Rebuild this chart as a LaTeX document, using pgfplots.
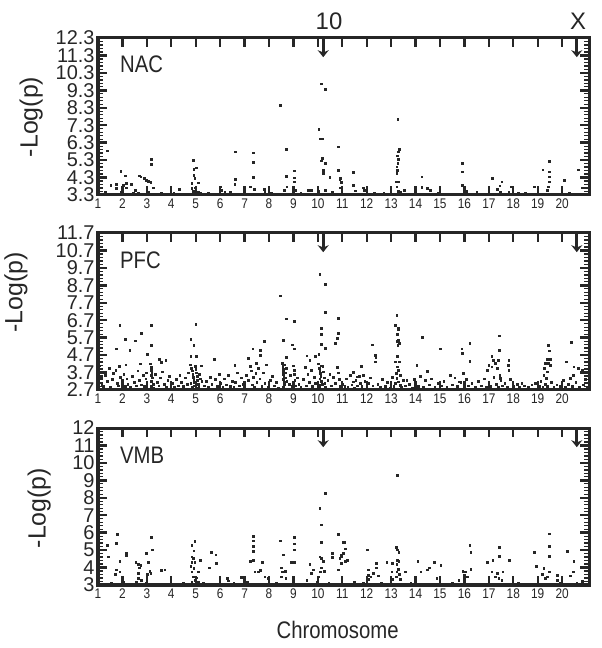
\documentclass[border=0pt]{standalone}
\usepackage{fontspec}
\setmainfont{Liberation Sans}
\newfontfamily\narrowfont{Liberation Sans}[FakeStretch=0.85]
\usepackage{pgfplots}
\pgfplotsset{compat=1.18}
\usetikzlibrary{arrows.meta}
\definecolor{ink}{HTML}{262626}
\pgfplotsset{manh/.style={
  scale only axis, width=491bp, height=157bp,
  anchor=south west,
  clip mode=individual,
  xmin=1, xmax=21.1,
  xtick={1,...,20},
  tick align=inside,
  major tick length=9bp, minor tick length=5bp,
  minor y tick num=4,
  axis line style={line width=3bp, draw=ink},
  tick style={line width=2.4bp, draw=ink},
  major tick style={line width=2.4bp, draw=ink},
  minor tick style={line width=1.3bp, draw=ink},
  xticklabel style={font=\narrowfont\fontsize{14}{14}\selectfont, text=ink},
  yticklabel style={font=\fontsize{20}{20}\selectfont, text=ink},
  /pgf/number format/assume math mode=true,
  ylabel={-Log(p)},
  ylabel style={font=\fontsize{25}{25}\selectfont, text=ink, anchor=center},
},
dots/.style={only marks, mark=square*, mark size=0.85bp, draw=ink, fill=ink, mark options={draw=ink, fill=ink}},
}
\tikzset{
frm/.style={draw=ink, line width=3bp},
arr/.style={line width=3bp, draw=ink, -{Stealth[length=7bp,width=11bp]}},
}
\begin{document}
\begin{tikzpicture}
\path[use as bounding box] (0,0) rectangle (602bp,648bp);
% ---------------- NAC ----------------
\begin{axis}[manh, at={(98bp,453bp)},
  ymin=3.3, ymax=12.3,
  ytick={3.3,4.3,5.3,6.3,7.3,8.3,9.3,10.3,11.3,12.3},
  yticklabels={3.3,4.3,5.3,6.3,7.3,8.3,9.3,10.3,11.3,12.3},
  ylabel style={at={(axis description cs:-0.136,0.497)}}]
\addplot[dots] coordinates {
(1.38,5.84)(1.52,3.87)(1.75,3.93)(1.75,3.68)(1.93,4.68)(2.02,3.87)(1.96,3.49)(2.12,4.41)(2.16,3.97)(2.16,3.72)
(2.37,3.91)(2.53,3.57)(2.68,4.41)(2.75,4.35)(2.89,4.26)(2.98,4.16)(3.05,4.10)(3.16,4.03)(3.19,5.36)(3.19,5.06)
(3.25,3.72)(2.64,3.40)(3.05,3.49)(4.31,3.64)(4.89,5.29)(4.92,4.77)(5.03,4.87)(4.92,4.45)(4.96,4.26)(4.83,3.97)
(5.10,4.01)(4.83,3.68)(4.96,3.72)(4.89,3.53)(5.10,3.49)(5.17,3.40)(5.99,3.78)(6.03,3.59)(6.19,3.49)(6.63,5.78)
(6.63,4.22)(6.60,3.91)(7.22,3.78)(7.39,3.64)(7.35,5.73)(7.35,5.17)(7.35,4.31)(7.80,3.64)(7.83,3.49)(8.47,8.44)
(8.69,5.92)(8.69,4.39)(8.72,3.78)(8.62,3.59)(9.02,4.70)(9.02,4.29)(9.02,4.06)(8.99,3.78)(9.06,3.59)(9.61,3.57)
(9.74,3.59)(10.13,9.68)(10.29,9.38)(10.04,7.08)(10.08,6.53)(10.19,6.53)(10.19,5.40)(10.15,5.27)(10.29,5.13)(10.22,4.73)
(10.22,4.54)(10.29,3.59)(10.04,3.53)(10.49,4.31)(10.84,6.07)(10.84,4.73)(10.90,4.22)(10.95,4.03)(10.90,3.72)
(10.91,4.26)(11.45,4.60)(11.45,3.87)(11.52,3.55)(11.86,3.72)(11.89,3.59)(13.27,7.66)(13.34,5.94)(13.30,5.78)(13.26,5.55)
(13.30,5.36)(13.27,5.12)(13.23,4.92)(13.26,4.73)(13.23,4.54)(13.20,4.06)(13.30,4.06)(13.23,3.78)(13.30,3.53)(13.37,3.45)
(13.54,3.59)(14.25,4.35)(14.25,3.74)(14.49,3.68)(14.60,3.59)(15.92,5.12)(15.92,4.64)(15.92,3.87)(16.07,3.53)(17.15,4.26)
(17.53,4.06)(17.44,3.84)(17.35,3.64)(17.46,3.49)(17.90,3.78)(17.81,3.49)(18.86,3.78)(19.21,4.75)(19.46,5.25)(19.46,4.64)
(19.46,4.35)(19.46,4.06)(19.44,3.78)(19.38,3.59)(20.09,4.16)(20.66,4.75)(20.81,3.72)
(1.30,3.45)(2.45,3.42)(3.60,3.40)(4.10,3.42)(5.50,3.40)(6.40,3.45)(8.10,3.42)(9.30,3.40)(10.60,3.45)(12.30,3.42)
(12.70,3.40)(14.90,3.42)(16.50,3.45)(18.20,3.40)(18.50,3.44)(20.30,3.42)
};
\draw[frm] (rel axis cs:0,0) rectangle (rel axis cs:1,1);
\node[anchor=west, font=\narrowfont\fontsize{24}{24}\selectfont, text=ink] at (axis description cs:0.038,0.835) {NAC};
\node[font=\fontsize{24}{24}\selectfont, text=ink] at (axis description cs:0.4705,1.105) {10};
\node[font=\fontsize{24}{24}\selectfont, text=ink] at (axis description cs:0.9776,1.105) {X};
\draw[arr] (axis cs:10.22,12.3) -- (axis cs:10.22,11.2);
\draw[arr] (axis cs:20.6,12.3) -- (axis cs:20.6,11.2);
\end{axis}
% ---------------- PFC ----------------
\begin{axis}[manh, at={(98bp,258bp)},
  ymin=2.7, ymax=11.7,
  ytick={2.7,3.7,4.7,5.7,6.7,7.7,8.7,9.7,10.7,11.7},
  yticklabels={2.7,3.7,4.7,5.7,6.7,7.7,8.7,9.7,10.7,11.7},
  ylabel style={at={(axis description cs:-0.167,0.62)}}]
\addplot[dots] coordinates {
(1.89,6.40)(3.19,6.43)(5.00,6.49)(8.47,8.10)(8.69,6.78)(9.03,6.66)(10.08,9.35)(10.29,8.77)(10.29,7.16)(10.84,6.82)
(10.84,5.96)(10.15,6.24)(10.15,5.90)(10.13,5.32)(10.29,5.09)(10.04,4.75)(2.12,5.61)(2.53,5.52)(2.78,5.94)(1.75,5.06)
(2.30,5.00)(3.02,4.75)(3.19,5.25)(4.80,5.61)(4.92,5.25)(4.80,4.62)(5.03,4.62)(5.75,4.48)(6.60,4.14)(7.33,5.06)
(7.65,5.00)(7.80,5.48)(7.65,4.71)(7.49,4.23)(7.15,4.52)(8.58,5.57)(8.69,4.58)(8.95,5.29)(9.02,5.06)(10.70,5.38)
(10.80,5.67)(9.54,4.67)(9.88,4.62)(9.67,4.42)(3.77,4.42)(3.60,4.29)(3.50,4.46)
(1.05,4.10)(1.08,3.75)(1.12,3.40)(1.15,3.05)(1.22,2.90)(1.30,3.55)(1.38,3.20)(1.45,3.95)(1.50,2.85)(1.58,3.30)(1.62,3.65)
(1.72,3.85)(1.78,3.10)(1.82,2.95)(1.88,4.05)(1.92,3.45)(1.98,3.25)(2.05,3.60)(2.10,2.90)(2.14,4.15)(2.18,3.35)(2.22,3.05)
(2.32,2.85)(2.40,3.50)(2.48,3.15)(2.55,2.95)(2.62,3.80)(2.68,3.25)(2.72,4.20)(2.78,3.00)(2.85,3.55)(2.90,2.90)(2.95,3.35)(2.98,3.70)
(3.15,4.20)(3.18,4.00)(3.19,3.85)(3.20,3.70)(3.18,3.55)(3.22,3.40)(3.19,3.20)(3.25,3.05)(3.17,2.90)(3.28,2.80)
(3.35,3.60)(3.42,3.15)(3.48,2.95)(3.55,3.40)(3.62,3.75)(3.70,3.05)(3.78,2.85)(3.85,3.25)(3.92,3.50)(3.98,2.95)
(4.05,3.10)(4.12,2.85)(4.20,3.30)(4.28,2.95)(4.35,3.55)(4.42,3.15)(4.50,2.90)(4.58,3.40)(4.65,3.05)(4.70,3.70)
(4.78,4.15)(4.82,3.95)(4.85,3.80)(4.88,3.60)(4.90,3.45)(4.92,3.30)(4.95,3.15)(4.97,4.05)(5.00,3.90)(5.02,3.70)(5.05,3.50)
(5.07,3.25)(5.10,3.05)(5.12,2.90)(4.86,2.85)(4.93,2.95)(5.00,3.00)(5.15,3.60)(5.18,3.35)(5.22,4.10)(5.25,3.20)(4.80,3.10)(5.03,2.80)
(5.35,2.95)(5.42,3.20)(5.50,2.85)(5.58,3.45)(5.65,3.05)(5.80,3.30)(5.88,2.90)(5.95,3.60)(6.02,3.10)(6.10,2.85)(6.18,3.35)
(6.25,3.00)(6.32,3.55)(6.40,2.90)(6.48,3.20)
(6.55,2.85)(6.62,3.15)(6.70,3.70)(6.78,2.95)(6.85,3.40)(6.92,3.05)(7.00,2.90)(7.08,3.55)(7.15,3.25)(7.22,4.05)(7.28,3.80)
(7.30,3.00)(7.35,3.45)(7.40,2.85)(7.45,3.65)(7.50,3.15)
(7.55,3.95)(7.62,3.35)(7.70,2.90)(7.75,3.70)(7.82,3.10)(7.88,4.15)(7.95,2.85)(8.05,3.25)(8.12,3.50)(8.20,2.95)(8.30,3.15)(8.38,2.80)
(8.55,4.25)(8.56,4.05)(8.58,3.90)(8.57,3.75)(8.59,3.60)(8.60,3.45)(8.58,3.30)(8.61,3.15)(8.62,3.00)(8.57,2.85)(8.65,3.70)
(8.67,3.40)(8.70,3.95)(8.72,3.20)(8.63,4.15)
(8.82,3.05)(8.88,3.55)(8.95,2.90)(9.00,4.10)(9.02,3.85)(9.03,3.60)(9.05,3.25)(9.08,2.95)(9.15,3.40)(9.22,3.05)(9.30,2.85)
(9.40,3.30)(9.48,4.00)(9.52,2.95)(9.58,3.60)(9.65,3.15)(9.72,3.85)(9.78,2.90)(9.85,3.45)(9.90,3.10)
(10.02,4.20)(10.05,3.95)(10.07,3.80)(10.10,3.65)(10.12,3.50)(10.08,3.35)(10.15,3.20)(10.18,3.05)(10.05,2.90)(10.20,4.05)
(10.22,3.75)(10.25,3.40)(10.28,3.10)(10.30,2.85)(10.13,4.10)(10.10,3.00)
(10.40,3.25)(10.48,3.60)(10.55,2.95)(10.62,3.45)(10.70,3.10)(10.78,4.00)(10.82,3.70)(10.86,3.30)(10.90,2.90)
(13.23,6.97)(13.16,6.43)(13.30,6.24)(13.30,6.15)(13.26,5.90)(13.30,5.57)(13.26,5.48)(13.32,5.38)(13.27,5.25)(13.26,4.62)
(13.16,4.33)(13.34,4.33)(13.26,4.04)(13.30,3.85)(13.20,3.66)(13.37,3.56)(13.23,3.37)(13.30,3.18)(13.16,3.08)(13.37,2.99)
(14.28,5.71)(12.23,5.29)(12.34,4.71)(12.37,4.56)(12.34,4.33)(15.00,5.06)(15.89,5.06)(15.92,4.81)(16.21,5.38)(16.21,4.37)
(15.96,3.66)(17.42,5.82)(17.42,5.00)(17.12,4.62)(17.19,4.42)(17.26,4.23)(17.39,4.42)(17.12,4.04)(16.99,4.14)(16.92,3.85)
(17.35,3.94)(17.44,3.56)(17.46,3.37)(17.81,4.42)(17.78,4.14)(17.81,3.85)(19.42,5.25)(19.47,4.96)(19.38,4.48)(19.51,4.48)
(19.31,4.23)(19.44,4.23)(19.51,4.14)(19.27,3.94)(19.38,3.75)(19.24,3.56)(19.35,3.37)(20.36,5.44)(20.16,4.33)(20.47,4.04)
(20.44,3.56)(20.33,3.37)(20.66,3.94)(11.77,4.08)(11.45,3.71)(11.32,3.56)(11.59,3.47)(11.86,3.56)(11.45,3.18)(11.73,3.08)
(14.05,4.14)(14.49,3.79)(14.39,3.27)(15.41,3.56)(15.76,3.18)(13.64,3.27)(18.35,3.08)(18.90,3.08)(20.81,3.85)
(11.00,3.05)(11.10,2.90)(11.15,3.35)(11.22,2.85)(11.38,3.00)(11.50,2.80)(11.55,3.25)(11.62,2.95)(11.68,3.50)(11.80,2.90)
(11.92,3.20)(12.00,2.85)(12.08,3.10)(12.15,3.40)(12.25,2.95)(12.45,3.05)(12.55,2.85)(12.62,3.30)(12.75,2.90)(12.85,3.15)
(12.95,2.80)(13.05,3.45)(13.10,2.90)(13.42,2.85)(13.50,3.25)(13.58,2.95)(13.75,3.05)(13.85,2.80)(13.95,3.30)(14.12,2.90)
(14.20,3.50)(14.30,2.85)(14.55,3.00)(14.65,3.35)(14.78,2.85)(14.90,3.10)(15.05,2.95)(15.15,3.20)(15.28,2.85)(15.50,3.00)
(15.60,3.40)(15.70,2.90)(15.85,3.15)(16.00,2.85)(16.08,3.30)(16.15,2.95)(16.30,3.10)(16.45,2.85)(16.55,3.20)(16.68,2.95)
(16.80,3.35)(16.90,2.85)(17.00,3.15)(17.08,2.90)(17.20,3.45)(17.30,3.05)(17.38,2.85)(17.48,3.25)(17.55,2.95)(17.65,3.10)
(17.75,2.85)(17.88,3.30)(18.00,2.90)(18.15,3.05)(18.25,2.85)(18.45,2.95)(18.60,2.85)(18.75,3.00)(19.05,2.90)(19.12,3.20)
(19.20,2.85)(19.30,3.05)(19.40,2.90)(19.55,3.15)(19.65,2.85)(19.78,3.00)(19.90,2.90)(20.05,3.25)(20.12,2.85)(20.25,3.05)
(20.40,2.90)(20.55,3.15)(20.70,2.85)(20.85,3.00)(21.00,2.85)(20.95,3.30)
};
\draw[frm] (rel axis cs:0,0) rectangle (rel axis cs:1,1);
\node[anchor=west, font=\narrowfont\fontsize{24}{24}\selectfont, text=ink] at (axis description cs:0.038,0.825) {PFC};
\draw[arr] (axis cs:10.22,11.7) -- (axis cs:10.22,10.6);
\draw[arr] (axis cs:20.6,11.7) -- (axis cs:20.6,10.6);
\end{axis}
% ---------------- VMB ----------------
\begin{axis}[manh, at={(98bp,63bp)},
  ymin=3, ymax=12,
  ytick={3,4,5,6,7,8,9,10,11,12},
  yticklabels={3,4,5,6,7,8,9,10,11,12},
  ylabel style={at={(axis description cs:-0.120,0.49)}},
  xlabel={Chromosome},
  xlabel style={at={(axis description cs:0.488,-0.287)}, anchor=center, font=\narrowfont\fontsize{24}{24}\selectfont, text=ink}]
\addplot[dots] coordinates {
(1.38,5.27)(1.41,4.63)(1.79,5.92)(1.75,5.40)(1.89,4.35)(1.75,3.87)(1.71,3.62)(1.89,3.77)(2.16,4.83)(2.16,4.69)
(2.54,4.31)(2.64,4.19)(2.75,4.15)(2.68,4.00)(2.64,3.67)(2.64,3.38)(2.78,3.29)(2.57,3.19)(2.98,4.83)(3.05,4.31)
(3.12,3.81)(3.02,3.62)(3.19,5.75)(3.21,5.02)(3.16,3.67)(3.60,3.83)(3.73,3.87)(4.83,5.27)(4.96,5.50)(4.92,4.96)
(4.83,4.63)(4.89,4.54)(4.83,4.31)(4.96,4.29)(5.17,4.44)(4.80,4.06)(4.92,3.96)(4.83,3.77)(5.10,3.77)(4.89,3.48)
(5.03,3.42)(4.96,3.29)(5.10,3.19)(4.83,3.19)(5.62,4.87)(5.82,4.73)(5.55,4.00)(5.85,4.25)(6.30,3.38)(6.33,3.25)
(6.87,3.44)(7.35,5.79)(7.35,5.54)(7.35,5.21)(7.35,4.92)(7.35,4.44)(7.42,3.77)(7.56,3.77)(7.72,4.31)(7.65,3.83)
(7.83,3.48)(7.97,3.38)(7.22,4.35)(8.47,5.54)(8.58,4.73)(8.51,4.00)(8.54,3.77)(8.65,3.81)(8.49,3.48)(8.68,3.38)
(9.02,5.75)(9.02,5.37)(9.02,5.02)(9.02,4.31)(8.92,4.31)(9.67,4.19)(9.81,3.87)(9.74,3.67)(9.54,3.29)(10.08,7.42)
(10.30,8.25)(10.15,6.46)(10.13,5.46)(10.08,4.63)(10.15,4.54)(10.22,4.35)(10.13,4.00)(10.26,3.81)(10.11,3.77)(10.02,3.48)
(10.59,4.83)(10.60,4.58)(10.84,5.92)(11.04,5.46)(10.95,4.73)(10.90,4.54)(10.97,4.25)(10.84,3.87)
(13.26,9.31)(13.20,5.15)(13.26,5.02)(13.31,4.88)(13.26,4.44)(13.31,4.35)(13.23,4.19)(13.30,3.92)(13.23,3.77)(13.34,3.62)
(13.20,3.48)(13.37,3.35)(11.07,5.46)(11.11,5.08)(11.04,4.83)(10.97,4.63)(11.21,4.44)(11.11,4.35)(12.03,5.02)(12.07,3.87)
(12.07,3.58)(12.16,3.48)(12.07,3.35)(12.27,3.67)(12.38,4.25)(12.38,4.00)(12.48,3.54)(12.82,4.29)(13.05,4.25)(13.02,3.77)
(13.06,3.35)(13.57,3.77)(14.09,4.35)(14.21,3.77)(14.57,4.00)(14.49,3.87)(14.77,4.29)(15.03,4.15)(14.87,3.38)(15.76,3.29)
(15.93,3.81)(16.03,3.77)(15.99,3.58)(16.21,5.27)(16.26,4.87)(16.26,3.92)(16.10,3.48)(16.92,4.31)(17.16,4.44)(17.42,5.17)
(17.42,4.67)(17.83,4.44)(17.12,3.77)(17.33,3.67)(17.57,3.77)(17.40,3.38)(17.26,3.48)(17.53,3.29)(18.87,4.90)(18.94,4.06)
(19.24,3.96)(19.47,5.94)(19.47,5.23)(19.47,4.67)(19.47,3.77)(19.38,3.48)(19.31,3.38)(19.17,3.62)(19.81,3.58)(19.79,3.29)
(20.20,4.92)(20.47,4.35)(20.44,3.77)(20.33,3.54)(20.81,3.23)
(1.55,3.10)(2.05,3.15)(2.95,3.10)(3.40,3.05)(4.50,3.10)(5.30,3.10)(5.95,3.05)(6.55,3.10)(7.10,3.15)(8.30,3.10)
(9.20,3.05)(9.95,3.15)(10.45,3.10)(11.50,3.15)(11.85,3.10)(12.60,3.10)(13.80,3.10)(14.95,3.05)(15.50,3.10)(16.60,3.05)
(18.20,3.10)(18.60,3.05)(19.90,3.10)(20.60,3.10)
};
\draw[frm] (rel axis cs:0,0) rectangle (rel axis cs:1,1);
\node[anchor=west, font=\narrowfont\fontsize{24}{24}\selectfont, text=ink] at (axis description cs:0.038,0.825) {VMB};
\draw[arr] (axis cs:10.22,12) -- (axis cs:10.22,10.9);
\draw[arr] (axis cs:20.6,12) -- (axis cs:20.6,10.9);
\end{axis}
\end{tikzpicture}
\end{document}
